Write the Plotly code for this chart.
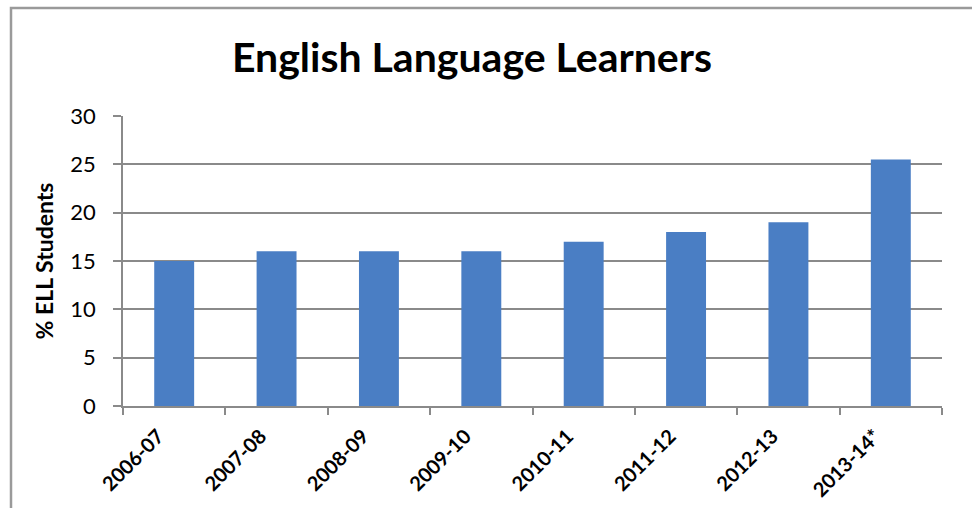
import plotly.graph_objects as go

# School years and the share of English Language Learner students (%)
years = ["2006-07", "2007-08", "2008-09", "2009-10",
         "2010-11", "2011-12", "2012-13", "2013-14*"]
ell_pct = [15, 16, 16, 16, 17, 18, 19, 25.5]

y_ticks = [0, 5, 10, 15, 20, 25, 30]

BAR_COLOR = "#4a7ec4"
GRID_COLOR = "#8a8a8a"
FONT = "Lato"

fig = go.Figure(
    go.Bar(
        x=years,
        y=ell_pct,
        marker=dict(color=BAR_COLOR, line=dict(width=0)),
        hoverinfo="x+y",
    )
)

fig.update_layout(
    width=972,
    height=508,
    margin=dict(l=123, r=30, t=116, b=102),
    paper_bgcolor="white",
    plot_bgcolor="white",
    bargap=0.61,
    showlegend=False,
    font=dict(family=FONT, color="black"),
    title=dict(
        text="English Language Learners",
        font=dict(family=FONT, size=41, color="black", weight="bold"),
        x=472 / 972,
        xanchor="center",
        xref="container",
        y=1 - 58 / 508,
        yanchor="middle",
        yref="container",
    ),
)

fig.update_xaxes(
    type="category",
    automargin=False,
    showgrid=False,
    showline=True,
    linecolor=GRID_COLOR,
    linewidth=1.5,
    ticks="outside",
    tickson="boundaries",
    ticklen=7,
    tickcolor=GRID_COLOR,
    tickwidth=1.5,
    tickangle=-45,
    ticklabelshift=-16,
    ticklabelstandoff=9,
    tickfont=dict(family=FONT, size=20, color="black", weight="bold"),
)

fig.update_yaxes(
    range=[0, 30],
    automargin=False,
    tickvals=y_ticks,
    showgrid=True,
    gridcolor=GRID_COLOR,
    gridwidth=1.5,
    zeroline=False,
    showline=True,
    linecolor=GRID_COLOR,
    linewidth=1.5,
    ticks="outside",
    ticklen=8,
    tickcolor=GRID_COLOR,
    tickwidth=1.5,
    ticklabelstandoff=13,
    tickfont=dict(family=FONT, size=22, color="black"),
    title=dict(
        text="% ELL Students",
        font=dict(family=FONT, size=23, color="black", weight="bold"),
        standoff=10,
    ),
)

# Outer frame around the chart
fig.add_shape(
    type="rect",
    xref="paper", yref="paper",
    x0=(11 - 123) / 819, x1=1.2,
    y0=-0.5, y1=(406 - 8) / 290,
    line=dict(color="#9a9a9a", width=2.5),
    fillcolor="rgba(0,0,0,0)",
    layer="below",
)

fig.write_html("out.html")
